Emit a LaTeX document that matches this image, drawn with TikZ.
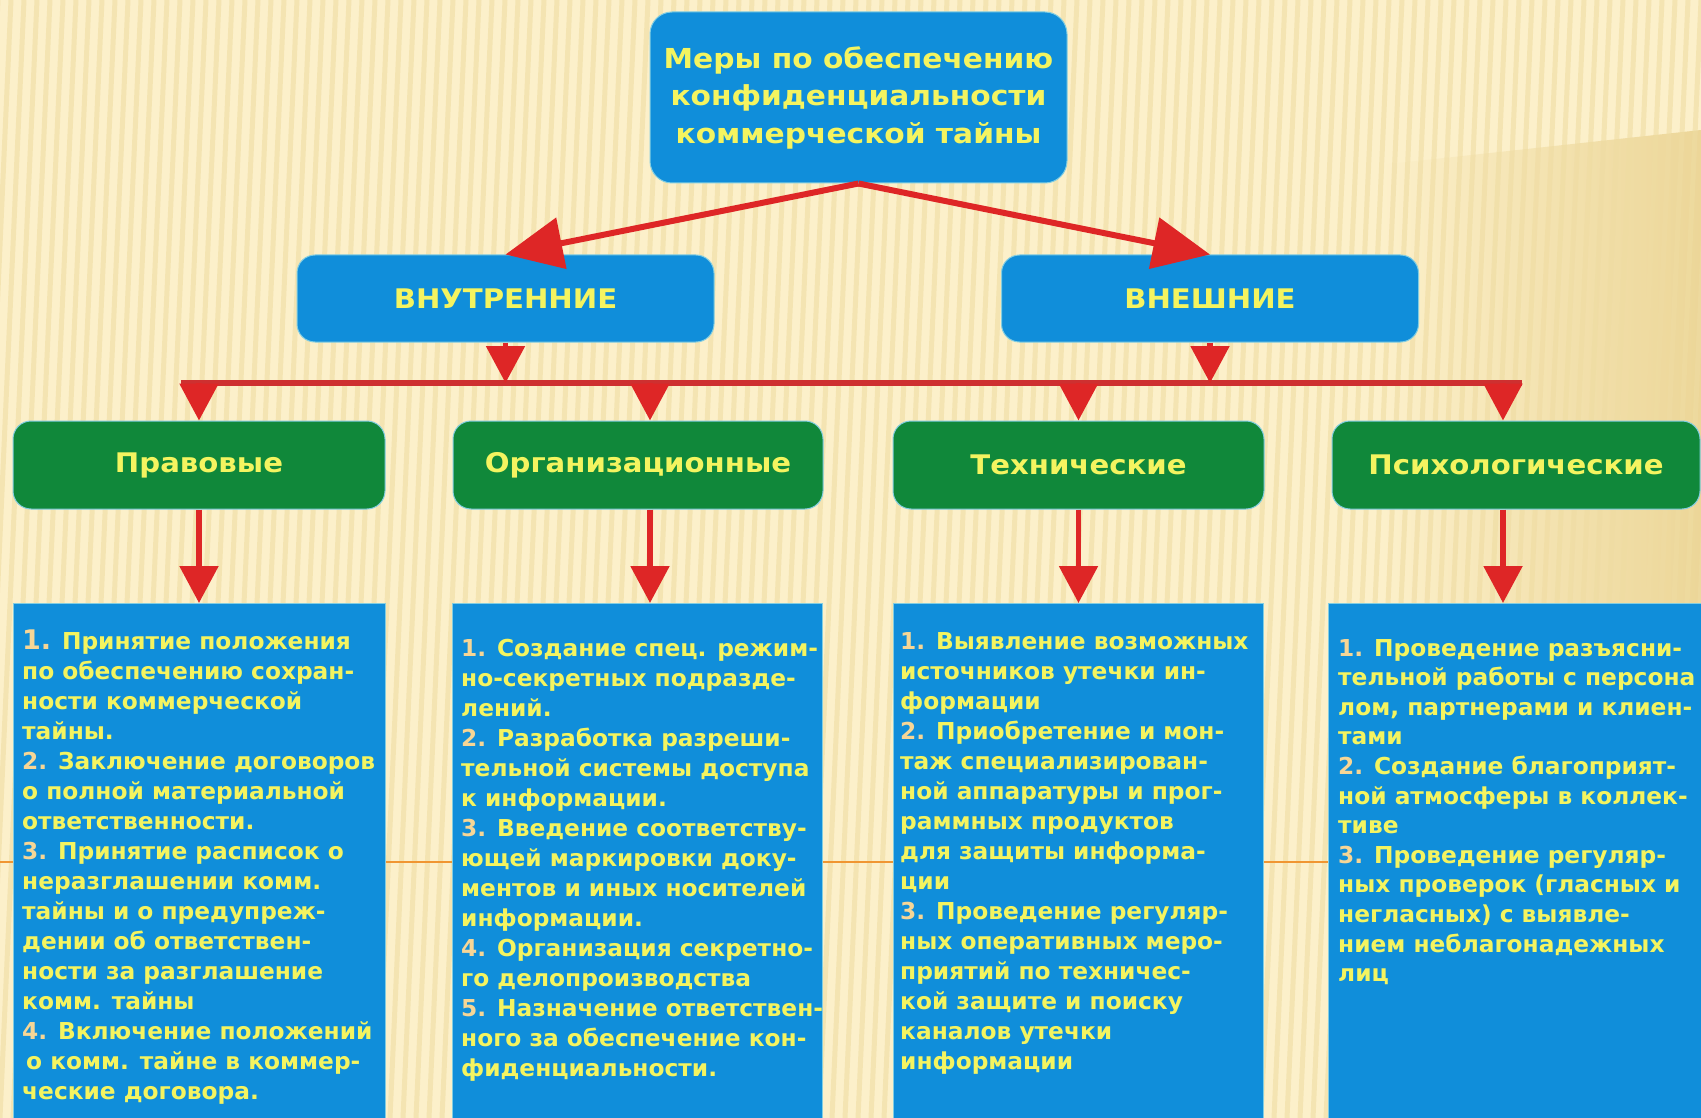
\documentclass[tikz,border=0pt]{standalone}
\usepackage{fontspec}
\setmainfont{DejaVu Sans}
\newfontfamily\headfont[FakeStretch=1.08]{DejaVu Sans}
\usetikzlibrary{arrows.meta}
\definecolor{bgc}{RGB}{252,240,202}
\definecolor{stripec}{RGB}{239,220,162}
\definecolor{shadec}{RGB}{236,214,152}
\definecolor{boxblue}{RGB}{16,142,218}
\definecolor{boxgreen}{RGB}{16,136,58}
\definecolor{txty}{RGB}{244,244,96}
\definecolor{numc}{RGB}{246,214,150}
\definecolor{redarr}{RGB}{222,38,38}
\definecolor{redline}{RGB}{206,48,48}
\definecolor{orangeline}{RGB}{240,150,50}
\definecolor{edgec}{RGB}{130,205,225}
\newcommand\nm[1]{\textcolor{numc}{#1}}
\begin{document}
\begin{tikzpicture}[x=1pt,y=-1pt,
  bluebox/.style={fill=boxblue, draw=edgec, line width=1pt, inner sep=0pt},
  greenbox/.style={fill=boxgreen, draw=edgec, line width=1pt, inner sep=0pt, rounded corners=18pt,
     minimum height=88pt, text=txty, font=\headfont\bfseries\fontsize{27}{32}\selectfont},
  headtext/.style={text=txty, font=\headfont\bfseries\fontsize{27.5}{37.5}\selectfont, align=center},
  bodytext/.style={text=txty, font=\bfseries\fontsize{23.3}{30}\selectfont, align=left, inner sep=0pt, anchor=north west},
  bigarrow/.style={draw=redarr, line width=6pt, -{Triangle[length=57pt 0, width=51pt 0]}},
  smallarrow/.style={draw=redarr, line width=5.5pt, -{Triangle[length=37pt 0, width=38pt 0]}},
  barline/.style={draw=redline, line width=6pt}
]
\useasboundingbox (0,0) rectangle (1701,1118);
\clip (0,0) rectangle (1701,1118);
% background
\fill[bgc] (0,0) rectangle (1701,1118);
\shade[left color=bgc, right color=shadec] (1380,165) -- (1701,130) -- (1701,1118) -- (1380,1118) -- cycle;
\foreach \i in {-8,...,135} \draw[stripec, line width=5pt, opacity=0.6] ({\i*13+50},0) -- ({\i*13},1118);
\draw[orangeline, line width=2.5pt] (0,862) -- (1701,862);

% top box
\node[bluebox, headtext, rounded corners=22pt, minimum width=417pt, minimum height=171pt] (top) at (858.5,97.5)
  {Меры по обеспечению\\конфиденциальности\\коммерческой тайны};

% second level
\node[bluebox, rounded corners=18pt, minimum width=417pt, minimum height=87pt, text=txty,
  font=\headfont\bfseries\fontsize{27}{32}\selectfont] (vn) at (505.5,298.5) {ВНУТРЕННИЕ};
\node[bluebox, rounded corners=18pt, minimum width=417pt, minimum height=87pt, text=txty,
  font=\headfont\bfseries\fontsize{27}{32}\selectfont] (vs) at (1210,298.5) {ВНЕШНИЕ};

% third level
\node[greenbox, minimum width=372pt] (g1) at (199,465) {Правовые};
\node[greenbox, minimum width=370pt] (g2) at (638,465) {Организационные};
\node[greenbox, minimum width=371pt] (g3) at (1078.5,465) {Технические};
\node[greenbox, minimum width=368pt] (g4) at (1516,465) {Психологические};

% text boxes
\node[bluebox, anchor=north west, minimum width=372pt, minimum height=520pt] (b1) at (13,603) {};
\node[bluebox, anchor=north west, minimum width=370pt, minimum height=520pt] (b2) at (452,603) {};
\node[bluebox, anchor=north west, minimum width=370pt, minimum height=520pt] (b3) at (893,603) {};
\node[bluebox, anchor=north west, minimum width=380pt, minimum height=520pt] (b4) at (1328,603) {};

\node[bodytext] (t1) at (22,630) {{\fontsize{27}{30}\selectfont\nm{1.}} Принятие положения\\
по обеспечению сохран-\\
ности коммерческой\\
тайны.\\
\nm{2.} Заключение договоров\\
о полной материальной\\
ответственности.\\
\nm{3.} Принятие расписок о\\
неразглашении комм.\\
тайны и о предупреж-\\
дении об ответствен-\\
ности за разглашение\\
комм. тайны\\
\nm{4.} Включение положений\\
\hspace{4pt}о комм. тайне в коммер-\\
ческие договора.};

\node[bodytext] (t2) at (461,639) {\nm{1.} Создание спец. режим-\\
но-секретных подразде-\\
лений.\\
\nm{2.} Разработка разреши-\\
тельной системы доступа\\
к информации.\\
\nm{3.} Введение соответству-\\
ющей маркировки доку-\\
ментов и иных носителей\\
информации.\\
\nm{4.} Организация секретно-\\
го делопроизводства\\
\nm{5.} Назначение ответствен-\\
ного за обеспечение кон-\\
фиденциальности.};

\node[bodytext] (t3) at (900,632) {\nm{1.} Выявление возможных\\
источников утечки ин-\\
формации\\
\nm{2.} Приобретение и мон-\\
таж специализирован-\\
ной аппаратуры и прог-\\
раммных продуктов\\
для защиты информа-\\
ции\\
\nm{3.} Проведение регуляр-\\
ных оперативных меро-\\
приятий по техничес-\\
кой защите и поиску\\
каналов утечки\\
информации};

\node[bodytext, font=\bfseries\fontsize{23.3}{29.6}\selectfont] (t4) at (1338,639) {\nm{1.} Проведение разъясни-\\
тельной работы с персона\\
лом, партнерами и клиен-\\
тами\\
\nm{2.} Создание благоприят-\\
ной атмосферы в коллек-\\
тиве\\
\nm{3.} Проведение регуляр-\\
ных проверок (гласных и\\
негласных) с выявле-\\
нием неблагонадежных\\
лиц};

% connectors
\draw[bigarrow] (top.south) -- (vn.north);
\draw[bigarrow] (top.south) -- (vs.north);

\coordinate (barL) at (181,383);
\coordinate (barR) at (1522,383);
\draw[barline] (barL) -- (barR);
\draw[smallarrow] (vn.south) -- (vn.south |- barL);
\draw[smallarrow] (vs.south) -- (vs.south |- barL);

\draw[smallarrow] (g1.north |- barL) -- (g1.north);
\draw[smallarrow] ([xshift=12pt]g2.north |- barL) -- ([xshift=12pt]g2.north);
\draw[smallarrow] (g3.north |- barL) -- (g3.north);
\draw[smallarrow] ([xshift=-13pt]g4.north |- barL) -- ([xshift=-13pt]g4.north);

\draw[smallarrow] (g1.south) -- (g1.south |- b1.north);
\draw[smallarrow] ([xshift=12pt]g2.south) -- ([xshift=12pt]g2.south |- b2.north);
\draw[smallarrow] (g3.south) -- (g3.south |- b3.north);
\draw[smallarrow] ([xshift=-13pt]g4.south) -- ([xshift=-13pt]g4.south |- b4.north);
\end{tikzpicture}
\end{document}
